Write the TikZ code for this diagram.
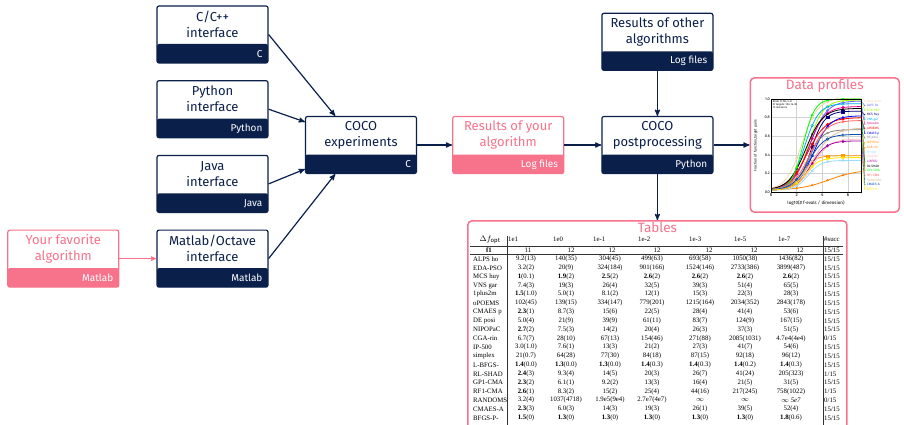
\documentclass[tikz,border=0pt]{standalone}
\usepackage{fontspec}
\setmainfont{Fira Sans}
\newfontfamily\tabfont{Liberation Serif}
\usetikzlibrary{arrows,positioning,calc,plotmarks}
\definecolor{cocoblue}{HTML}{0B1F4B}
\definecolor{cocopink}{HTML}{F7738C}
\definecolor{bestcol}{HTML}{F2D9A8}
\tikzset{
    tool/.style={
        rectangle,
        rounded corners=2pt,
        draw=cocoblue,
        line width=1.2pt,
        fill=white,
        minimum width=111pt,
        minimum height=57pt,
        inner sep=0pt,
        path picture={\fill[#1] ([yshift=19pt]path picture bounding box.south west) rectangle (path picture bounding box.south east);},
    },
    tool/.default=cocoblue,
    title/.style={
        anchor=center,
        yshift=-19pt,
        align=center,
        text=cocoblue,
        inner sep=0pt,
        font=\fontsize{13}{16}\selectfont,
    },
    tag/.style={
        anchor=south east,
        text=white,
        minimum height=19pt,
        inner xsep=6pt,
        inner ysep=0pt,
        font=\fontsize{10}{12}\selectfont,
    },
    panel/.style={
        rectangle,
        rounded corners=4pt,
        draw=cocopink,
        line width=1.5pt,
        fill=white,
    },
    paneltitle/.style={text=cocopink, inner sep=1pt, font=\fontsize{13.5}{16}\selectfont},
    link/.style={->, draw=cocoblue, line width=1.2pt},
    grid/.style={gray!35, line width=0.5pt},
    tick/.style={inner sep=1pt, font=\fontsize{4.5}{5}\selectfont},
    legend/.style={anchor=west, inner sep=0pt, font=\fontsize{3.2}{3.5}\selectfont},
    cell/.style={inner sep=0pt, font=\tabfont\fontsize{6.8}{8}\selectfont},
    rule/.style={draw=black!80, line width=0.6pt},
}
\begin{document}
\begin{tikzpicture}[x=1pt, y=-1pt, >=stealth', node distance=16.5pt and 36pt]
    \useasboundingbox (0,0) rectangle (904,425);
    % language interfaces
    \node [tool, label={[title]north:C/C++\\interface}, label={[tag]south east:C}] (cpp) at (212.5,34.5) {};
    \node [tool, below=of cpp, label={[title]north:Python\\interface}, label={[tag]south east:Python}] (py) {};
    \node [tool, below=of py, label={[title]north:Java\\interface}, label={[tag]south east:Java}] (java) {};
    \node [tool, below=of java, label={[title]north:Matlab/Octave\\interface}, label={[tag]south east:Matlab}] (mat) {};
    \node [tool=cocopink, draw=cocopink, left=37pt of mat, label={[title, text=cocopink]north:Your favorite\\algorithm}, label={[tag]south east:Matlab}] (fav) {};
    % experiments and postprocessing
    \node [tool, label={[title]north:COCO\\experiments}, label={[tag]south east:C}] (exp) at (361,145) {};
    \node [tool=cocopink, draw=cocopink, right=35pt of exp, label={[title, text=cocopink]north:Results of your\\algorithm}, label={[tag]south east:Log files}] (res) {};
    \node [tool, right=37pt of res, label={[title]north:COCO\\postprocessing}, label={[tag]south east:Python}] (post) {};
    \node [tool, above=45pt of post, label={[title]north:Results of other\\algorithms}, label={[tag]south east:Log files}] (other) {};
    \node [panel, minimum width=149pt, minimum height=134pt, right=36pt of post] (prof) {};
    \node [panel, minimum width=379pt, minimum height=215pt, below=46pt of post] (tab) {};
    \node [paneltitle, below=1pt of prof.north] (proft) {Data profiles};
    \node [paneltitle, below=1pt of tab.north] (tabt) {Tables};

    \draw[link] (cpp.east) -- ($(exp.north west)!0.27!(exp.north east)$);
    \draw[link] (py.east) -- ([yshift=-6pt]exp.north west);
    \draw[link] (java.east) -- ([yshift=5pt]exp.south west);
    \draw[link] (mat.east) -- ($(exp.south west)!0.27!(exp.south east)$);
    \draw[link, draw=cocopink, line width=1pt] (fav.east) -- (mat.west);
    \draw[link] (exp) -- (res);
    \draw[link] (res) -- (post);
    \draw[link] (other) -- (post);
    \draw[link] (post) -- (prof);
    \draw[link] (post) -- (tab);

    % data profile plot
    \begin{scope}[shift={(771,192)}, x=12.85pt, y=93pt]
        \foreach \t in {0.2,0.4,0.6,0.8} \draw[grid] (0,\t) -- (7,\t);
        \foreach \t in {2,4,6} \draw[grid] (\t,0) -- (\t,1);
        \foreach \col/\c/\k/\m/\mk/\nm [count=\i] in {
            bestcol/2.4/1.6/0.99/*/best 2009,
            blue!60/3.0/1.5/0.96/o/ALPS ho,
            lime!80!green/2.9/1.7/0.97/x/EDA-PSO,
            blue!50!black/3.1/1.9/0.85/square*/MCS huy,
            cyan/2.6/1.8/0.93/o/VNS gar,
            magenta/2.9/1.6/0.90/*/1plus2m,
            red/2.8/1.4/0.78/*/oPOEMS,
            blue/3.3/1.6/0.80/triangle*/CMAES p,
            gray/2.9/1.9/0.65/x/DE posi,
            orange!80!yellow/2.5/2.2/0.37/square*/NIPOPaC,
            orange/4.5/0.9/0.22/triangle*/CGA-rin,
            cyan!40/2.9/2.0/0.32/triangle*/IP-500,
            pink/3.3/1.6/0.55/x/simplex,
            violet!70!magenta/3.1/1.7/0.53/diamond*/L-BFGS-,
            black/2.7/1.5/0.88/x/RL-SHAD,
            green/2.5/2.2/0.98/triangle*/GP1-CMA,
            red!50!pink/3.0/1.5/0.75/x/RF1-CMA,
            brown!50!white/3.3/1.3/0.67/triangle*/RANDOMS,
            teal!60!blue/2.9/1.6/0.60/o/CMAES-A,
            yellow!90!orange/2.7/1.9/0.35/*/BFGS-P-} {
            \begin{scope}
                \clip (0,0) rectangle (7,1);
                \draw[\col, line width=0.8pt] plot[domain=0:7, samples=40] (\x,{\m/(1+exp(-\k*(\x-\c)))+0.02});
                \draw[\col] plot[only marks, mark=\mk, mark size=1.3pt, domain=2:5.6, samples=4] (\x,{\m/(1+exp(-\k*(\x-\c)))+0.02});
            \end{scope}
            \draw[\col, line width=0.4pt] (7,{\m/(1+exp(-\k*(7-\c)))+0.02}) -- (7.3,{1.0-0.05*\i+0.03}) node[legend, xshift=2pt] (leg\i) {\nm};
            \fill[\col] (7.3,{1.0-0.05*\i+0.03}) circle (0.6pt);
        }
        \draw[line width=0.8pt] (0,0) rectangle (7,1);
        \foreach \t in {0,2,4,6} \node[tick, below] (xt\t) at (\t,0) {\t};
        \foreach \t in {0.0,0.2,0.4,0.6,0.8,1.0} \node[tick, left, font=\fontsize{3.8}{4}\selectfont] (yt\t) at (0,\t) {\t};
        \node[tick] (xlab) at (3.5,-0.12) {log10(\# f-evals / dimension)};
        \node[tick, rotate=90, font=\fontsize{3.6}{4}\selectfont] (ylab) at (-1.2,0.5) {Fraction of function,target pairs};
        \node[anchor=north west, inner sep=0.5pt, align=left, font=\fontsize{2.6}{3}\selectfont] (info) at (0.1,0.99) {bbob f1-f24, 5-D\\51 targets: 100..1e-08\\15 instances};
    \end{scope}

    % table
    \draw[rule] (470,246) -- (843,246);
    \draw[rule] (470,254.5) -- (843,254.5);
    \draw[rule] (507,236) -- (507,430);
    \draw[rule] (823,236) -- (823,430);
    \node[cell, font=\fontsize{8}{9}\selectfont] (dfopt) at (490,240) {$\Delta f_{\mathrm{opt}}$};
    \foreach \x/\t [count=\i] in {508/1e1,553/1e0,593/1e-1,638/1e-2,689/1e-3,734/1e-5,778/1e-7,824/\#succ}
        \node[cell, anchor=west] (h\i) at (\x,239) {\t};
    \node[cell] (fone) at (489,250) {\textbf{f1}};
    \foreach \x/\t [count=\i] in {528/11,571/12,612/12,657/12,709/12,754/12,800/12}
        \node[cell] (f\i) at (\x,250) {\t};
    \node[cell, anchor=west] (fsucc) at (824,250) {15/15};
    \foreach \nm/\a/\b/\c/\d/\e/\f/\g/\sa/\sb [count=\i from 0] in {
        ALPS ho/9.2(13)/140(35)/304(45)/499(63)/693(58)/1050(38)/1436(82)/15/15,
        EDA-PSO/3.2(2)/20(9)/324(184)/901(166)/1524(146)/2733(386)/3899(487)/15/15,
        MCS huy/\textbf{1}(0.1)/\textbf{1.9}(2)/\textbf{2.5}(2)/\textbf{2.6}(2)/\textbf{2.6}(2)/\textbf{2.6}(2)/\textbf{2.6}(2)/15/15,
        VNS gar/7.4(3)/19(3)/26(4)/32(5)/39(3)/51(4)/65(5)/15/15,
        1plus2m/\textbf{1.5}(1.0)/5.0(1)/8.1(2)/12(1)/15(3)/22(3)/28(3)/15/15,
        oPOEMS/102(45)/139(15)/334(147)/779(201)/1215(164)/2034(352)/2843(178)/15/15,
        CMAES p/\textbf{2.3}(1)/8.7(3)/15(6)/22(5)/28(4)/41(4)/53(6)/15/15,
        DE posi/5.0(4)/21(9)/39(9)/61(11)/83(7)/124(9)/167(15)/15/15,
        NIPOPaC/\textbf{2.7}(2)/7.5(3)/14(2)/20(4)/26(3)/37(3)/51(5)/15/15,
        CGA-rin/6.7(7)/28(10)/67(13)/154(46)/271(88)/2085(1031)/4.7e4(4e4)/0/15,
        IP-500/3.0(1.0)/7.6(1)/13(3)/21(2)/27(3)/41(7)/54(6)/15/15,
        simplex/21(0.7)/64(28)/77(30)/84(18)/87(15)/92(18)/96(12)/15/15,
        L-BFGS-/\textbf{1.4}(0.0)/\textbf{1.3}(0.0)/\textbf{1.3}(0.0)/\textbf{1.4}(0.3)/\textbf{1.4}(0.3)/\textbf{1.4}(0.2)/\textbf{1.4}(0.3)/15/15,
        RL-SHAD/\textbf{2.4}(3)/9.3(4)/14(5)/20(3)/26(7)/41(24)/205(323)/1/15,
        GP1-CMA/\textbf{2.3}(2)/6.1(1)/9.2(2)/13(3)/16(4)/21(5)/31(5)/15/15,
        RF1-CMA/\textbf{2.6}(1)/8.3(2)/15(2)/25(4)/44(16)/217(245)/758(1022)/1/15,
        RANDOMS/3.2(4)/1037(4718)/1.9e5(9e4)/2.7e7(4e7)/$\infty$/$\infty$/$\infty$ \textit{5e7}/0/15,
        CMAES-A/\textbf{2.3}(3)/6.0(3)/14(3)/19(3)/26(1)/39(5)/52(4)/15/15,
        BFGS-P-/\textbf{1.5}(0)/\textbf{1.3}(0)/\textbf{1.3}(0)/\textbf{1.3}(0)/\textbf{1.3}(0)/\textbf{1.3}(0)/\textbf{1.8}(0.6)/15/15} {
        \node[cell, anchor=west] (n\i) at (473,{259+8.83*\i}) {\nm};
        \node[cell] (a\i) at (526,{259+8.83*\i}) {\a};
        \node[cell] (b\i) at (566,{259+8.83*\i}) {\b};
        \node[cell] (c\i) at (610,{259+8.83*\i}) {\c};
        \node[cell] (d\i) at (652,{259+8.83*\i}) {\d};
        \node[cell] (e\i) at (700,{259+8.83*\i}) {\e};
        \node[cell] (g\i) at (745,{259+8.83*\i}) {\f};
        \node[cell] (k\i) at (791,{259+8.83*\i}) {\g};
        \node[cell, anchor=west] (s\i) at (824,{259+8.83*\i}) {\sa/\sb};
    }
\end{tikzpicture}
\end{document}
